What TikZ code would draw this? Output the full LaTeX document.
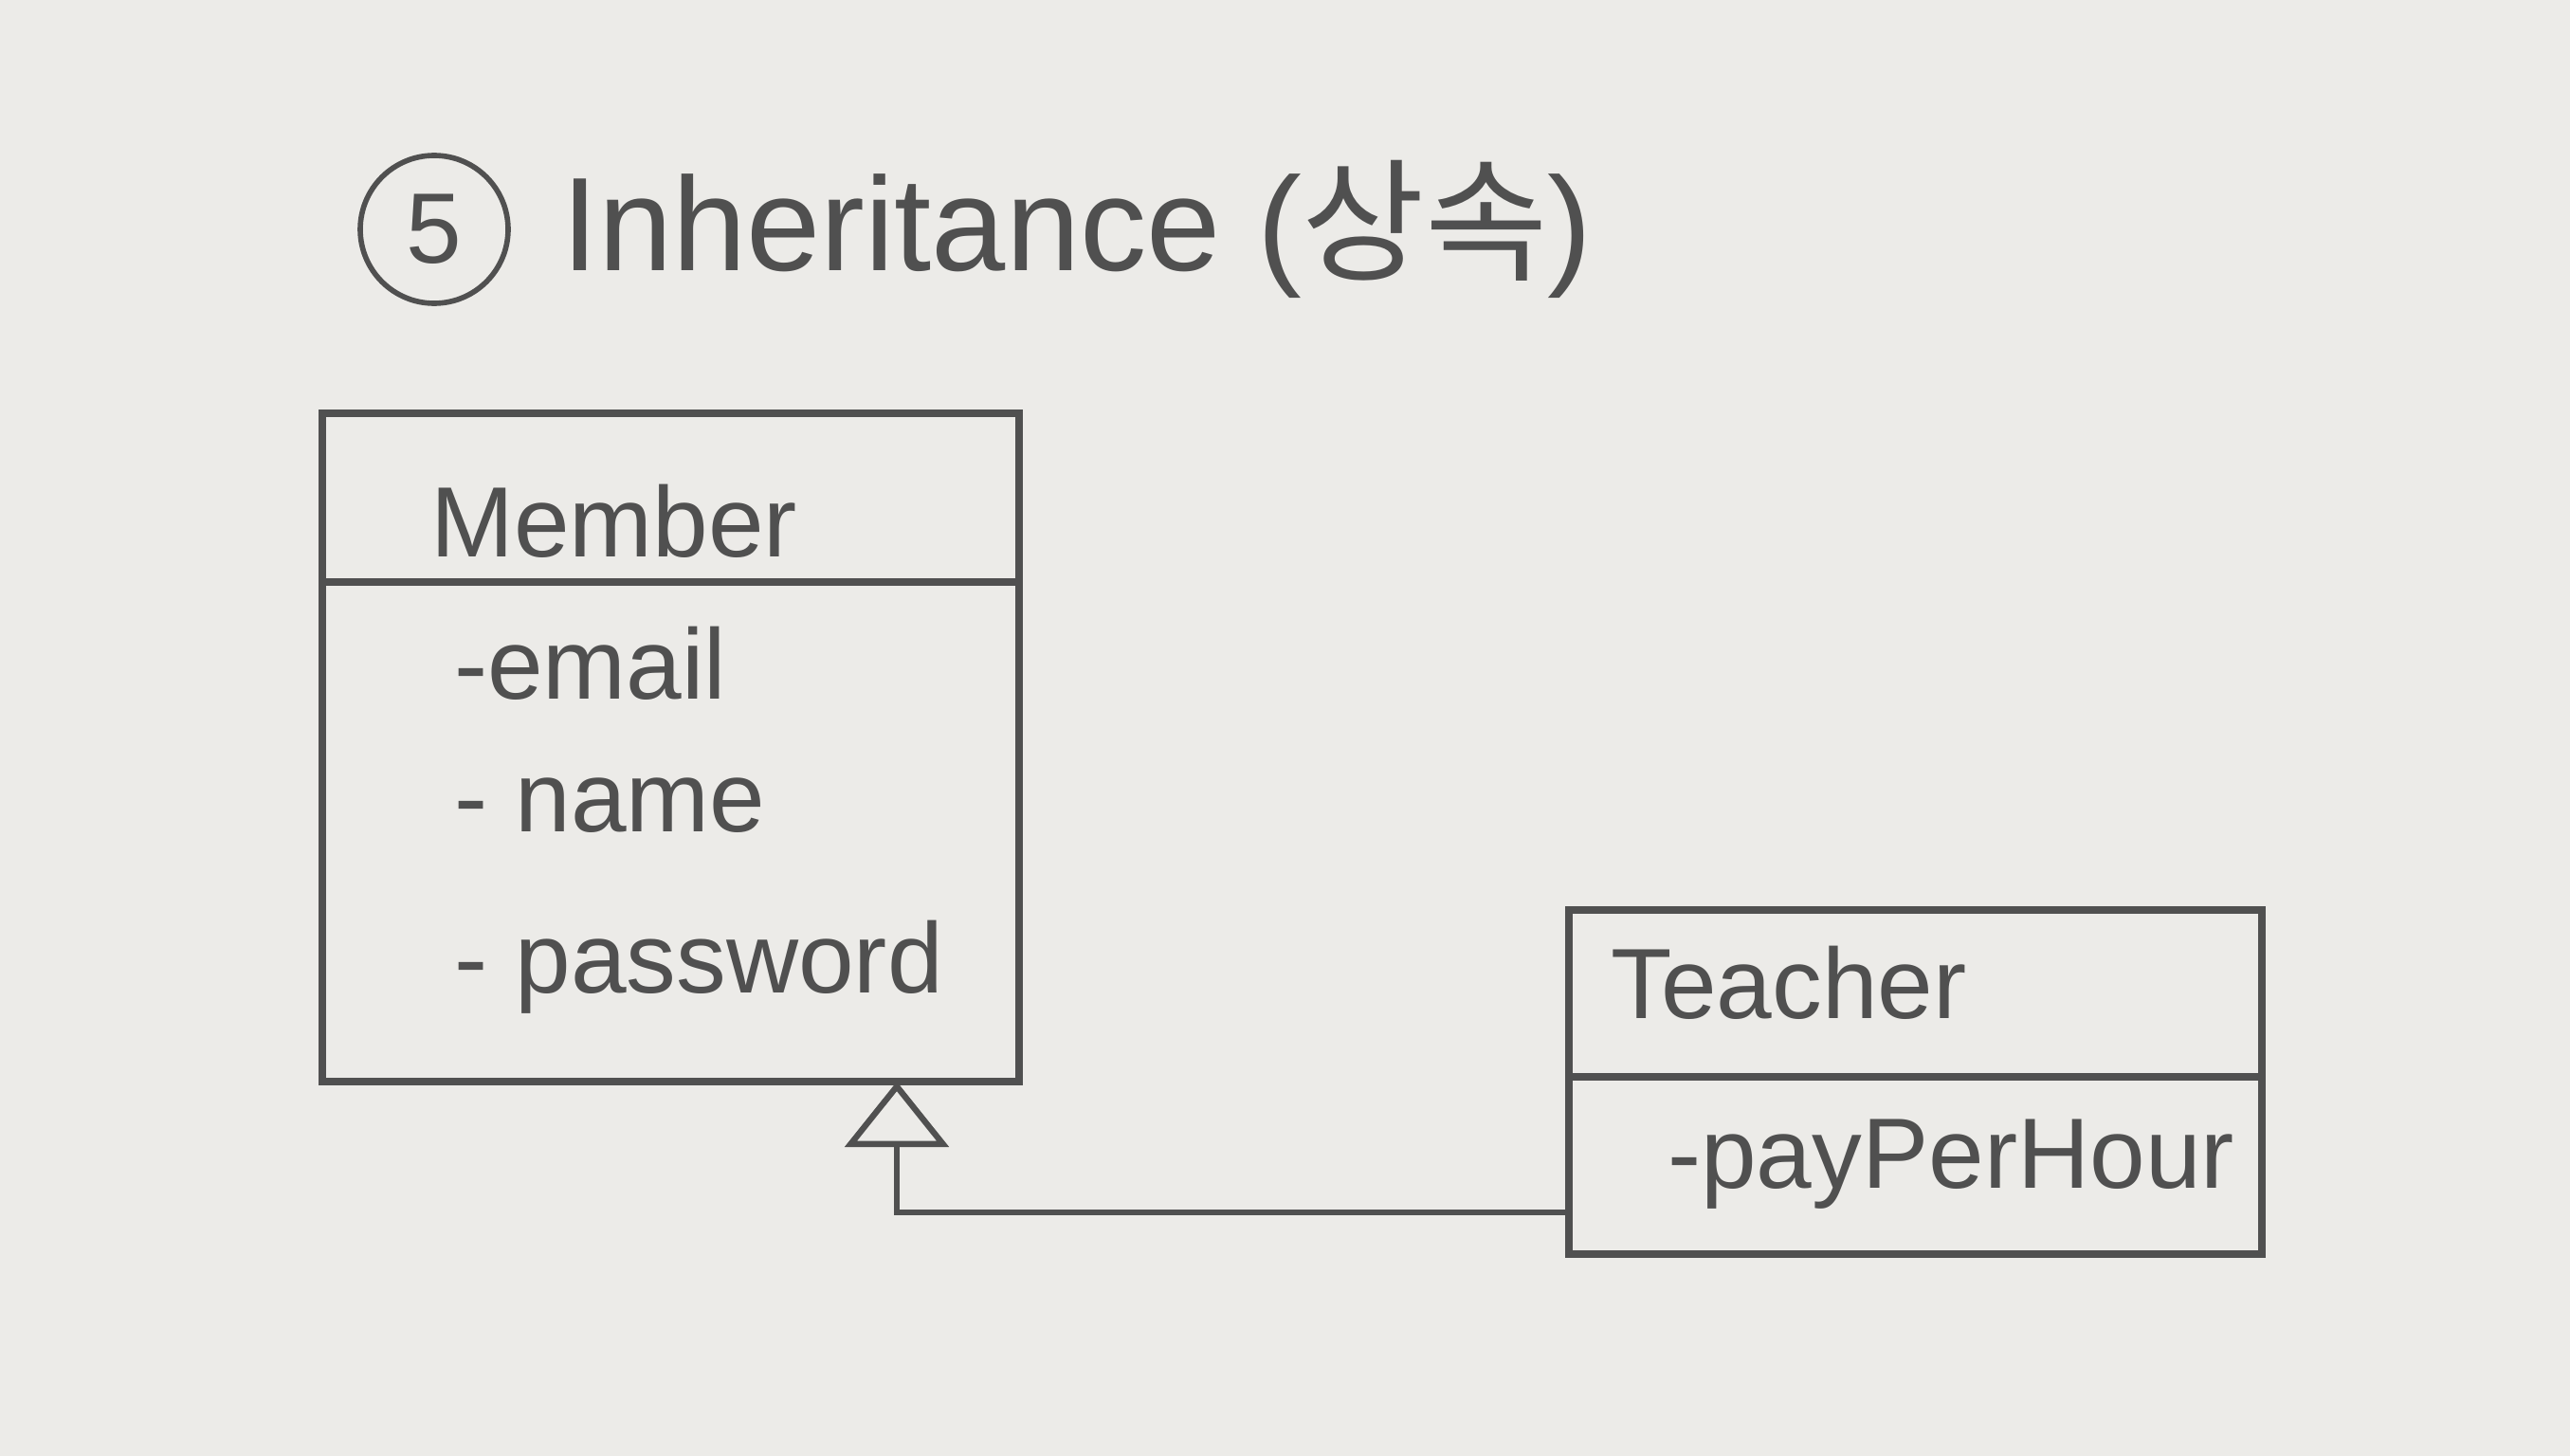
\documentclass[tikz,border=0pt]{standalone}
\usepackage{fontspec}
\setmainfont{Liberation Sans}
\newfontfamily\kor{Noto Sans CJK KR}
\usetikzlibrary{arrows.meta, backgrounds, positioning}

\definecolor{paper}{RGB}{236,235,232}
\definecolor{pencil}{RGB}{80,80,80}

\begin{document}
\begin{tikzpicture}[
            background rectangle/.style={fill=paper},
            show background rectangle,
            inner frame sep=0pt,
            node distance = 1.6cm,
            line width=2.4pt
        ]
        \useasboundingbox (0,0) rectangle (27.11,-15.36);

        \tikzstyle{head}=[
            draw=pencil,
            shape=rectangle,
            minimum height=1.78cm,
            inner sep=0pt,
            outer sep=0pt
        ]
        \tikzstyle{body}=[
            draw=pencil,
            shape=rectangle,
            inner sep=0pt,
            outer sep=0pt
        ]
        \tikzstyle{txt}=[
            anchor=west,
            inner sep=0pt,
            text=pencil,
            font=\fontsize{30}{30}\selectfont
        ]
        \tikzstyle{extends}=[
            draw=pencil,
            line width=1.8pt,
            -{Triangle[open, length=0.69cm, width=1.09cm]}
        ]

        % heading: circled number and title
        \node[circle, draw=pencil, line width=1.6pt, minimum size=1.56cm,
              text=pencil, font=\fontsize{30}{30}\selectfont] (five) at (4.58,-2.42) {5};
        \node[txt, font=\fontsize{40}{40}\selectfont] (title) at (5.88,-2.42) {Inheritance ({\kor 상속})};

        % superclass
        \node[head, minimum width=7.35cm] (member) at (7.075,-5.25) {};
        \node[body, minimum width=7.35cm, minimum height=5.27cm] (memberattr) [below=0pt of member] {};
        \node[txt] (membername) at (4.5,-5.5) {Member};
        \node[txt] (email) at (4.75,-7.0) {-email};
        \node[txt] (name) [below=1.5cm of email.west, anchor=west] {- name};
        \node[txt] (password) [below=1.7cm of name.west, anchor=west] {- password};

        % subclass
        \node[head, minimum width=7.31cm, minimum height=1.76cm] (teacher) at (20.205,-10.48) {};
        \node[body, minimum width=7.31cm, minimum height=1.87cm] (teacherattr) [below=0pt of teacher] {};
        \node[txt] (teachername) at (16.95,-10.37) {Teacher};
        \node[txt] (pay) at (17.55,-12.28) {-payPerHour};

        \coordinate (bend) at (9.46,-12.79);
        \path[extends] (bend -| teacherattr.west) -- (bend) -- (bend |- memberattr.south);

    \end{tikzpicture}
\end{document}
